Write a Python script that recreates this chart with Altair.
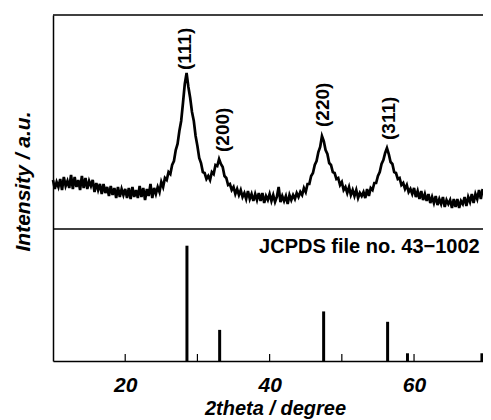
import altair as alt
import pandas as pd

FONT = "Liberation Sans"

# --- measured XRD trace (intensity, a.u.) sampled every 0.25 deg from 10 deg ---
theta_start = 10.0
theta_step = 0.25
intensity = [
    49, 40, 47, 42,   50, 39, 52, 43,   48, 41, 54, 40,   52, 42, 49, 39,
    53, 41, 51, 40,   48, 43, 49, 37,   46, 39, 45, 35,   45, 36, 42, 33,
    43, 34, 41, 31,   42, 32, 40, 34,   40, 31, 41, 30,   42, 32, 39, 31,
    43, 32, 41, 29,   40, 33, 45, 31,   41, 35, 42, 37,   47, 42, 51, 49,
    57, 55, 64, 68,   79, 85, 98, 108,  126, 145, 156, 142, 131, 117, 108, 93,
    83, 71, 66, 57,   56, 50, 53, 49,   57, 55, 64, 63,   70, 65, 62, 53,
    51, 44, 45, 39,   42, 35, 40, 34,   39, 32, 36, 30,   38, 30, 35, 28,
    35, 29, 36, 28,   36, 26, 33, 29,   35, 28, 34, 27,   32, 42, 27, 33,
    28, 33, 25, 34,   29, 34, 30, 36,   32, 37, 34, 41,   37, 45, 45, 53,
    56, 64, 68, 77,   82, 93, 88, 79,   75, 66, 64, 57,   56, 50, 51, 44,
    47, 39, 42, 36,   42, 34, 39, 33,   39, 31, 36, 33,   37, 31, 40, 33,
    41, 39, 46, 46,   53, 57, 65, 69,   76, 81, 75, 67,   65, 57, 56, 50,
    51, 44, 46, 40,   44, 37, 40, 35,   41, 32, 38, 30,   38, 29, 35, 28,
    35, 26, 32, 26,   33, 24, 30, 25,   32, 22, 29, 25,   29, 21, 30, 22,
    30, 21, 28, 25,   32, 23, 32, 27,   35, 26, 35, 30,   39, 30, 40,
]
two_theta = [round(theta_start + theta_step * i, 2) for i in range(len(intensity))]

# --- reference pattern JCPDS 43-1002 ---
stick_pos = [28.55, 33.08, 47.48, 56.34, 59.09, 69.40]
stick_rel = [100, 27, 43, 34, 6.7, 6.7]

# --- peak annotations ---
peak_labels = ["(111)", "(200)", "(220)", "(311)"]
label_pos = [28.3, 33.6, 47.35, 56.6]
label_height = [159, 77, 102, 89]

tick_values = [20, 30, 40, 50, 60]
axis_labels = [20, 40, 60]

PANEL = 132        # height of the lower (stick) panel, in y units
TOP = 346          # full y extent
STICK_MAX = 115.3  # height of the 100% stick

xs = alt.Scale(domain=[10, 69.55], nice=False, zero=False)
ys = alt.Scale(domain=[0, TOP], nice=False, zero=False)

curve_df = pd.DataFrame({"t": two_theta, "I": intensity})
stick_df = pd.DataFrame({"pos": stick_pos, "rel": stick_rel})
lab_df = pd.DataFrame({"lab": peak_labels, "pos": label_pos, "h": label_height})
tick_df = pd.DataFrame({"v": tick_values})
one = pd.DataFrame({"a": [0]})

x_axis = alt.Axis(
    values=axis_labels, ticks=False, grid=False, domain=True,
    domainColor="black", domainWidth=1.5,
    labelFont=FONT, labelFontSize=21, labelFontWeight="bold", labelFontStyle="italic",
    labelColor="black", labelPadding=13,
    title="2theta / degree", titleFont=FONT, titleFontSize=20, titleFontWeight="bold",
    titleFontStyle="italic", titleColor="black", titleX=222, titleY=37,
    titleBaseline="top",
)
y_axis = alt.Axis(
    labels=False, ticks=False, grid=False, domain=True,
    domainColor="black", domainWidth=1.5,
    title="Intensity / a.u.", titleFont=FONT, titleFontSize=21, titleFontWeight="bold",
    titleFontStyle="italic", titleColor="black", titlePadding=20, titleY=166,
)

curve = alt.Chart(curve_df).transform_calculate(
    yy=f"datum.I + {PANEL}"
).mark_line(color="black", strokeWidth=2.7, strokeJoin="miter").encode(
    x=alt.X("t:Q", scale=xs, axis=x_axis),
    y=alt.Y("yy:Q", scale=ys, axis=y_axis),
)

sticks = alt.Chart(stick_df).transform_calculate(
    h=f"datum.rel * {STICK_MAX} / 100", base="0"
).mark_rule(color="black", strokeWidth=3).encode(
    x=alt.X("pos:Q", scale=xs),
    y=alt.Y("base:Q", scale=ys),
    y2="h:Q",
)

ticks = alt.Chart(tick_df).transform_calculate(
    y0="0", y1="7"
).mark_rule(color="black", strokeWidth=1.2).encode(
    x=alt.X("v:Q", scale=xs),
    y=alt.Y("y0:Q", scale=ys),
    y2="y1:Q",
)

divider = alt.Chart(one).mark_rule(color="black", strokeWidth=1.5).encode(
    y=alt.datum(PANEL, scale=ys)
)
top_border = alt.Chart(one).mark_rule(color="black", strokeWidth=1.5).encode(
    y=alt.datum(TOP, scale=ys)
)

labels = alt.Chart(lab_df).transform_calculate(
    yy=f"datum.h + {PANEL}"
).mark_text(
    angle=270, align="left", baseline="middle", font=FONT, fontSize=19,
    fontWeight="bold", color="black",
).encode(
    x=alt.X("pos:Q", scale=xs),
    y=alt.Y("yy:Q", scale=ys),
    text="lab:N",
)

jcpds = alt.Chart(pd.DataFrame({"t": ["JCPDS file no. 43\u22121002"], "x": [69.1], "y": [114]})).mark_text(
    align="right", baseline="middle", font=FONT, fontSize=20, fontWeight="bold", color="black",
).encode(
    x=alt.X("x:Q", scale=xs),
    y=alt.Y("y:Q", scale=ys),
    text="t:N",
)

chart = alt.layer(curve, sticks, ticks, divider, top_border, labels, jcpds).properties(
    width=430, height=TOP,
    autosize=alt.AutoSizeParams(type="none"),
    padding={"left": 45, "top": 7, "right": 0, "bottom": 62},
).configure_view(stroke="transparent")

chart.save("out.html", embed_options={"renderer": "svg", "actions": False})
